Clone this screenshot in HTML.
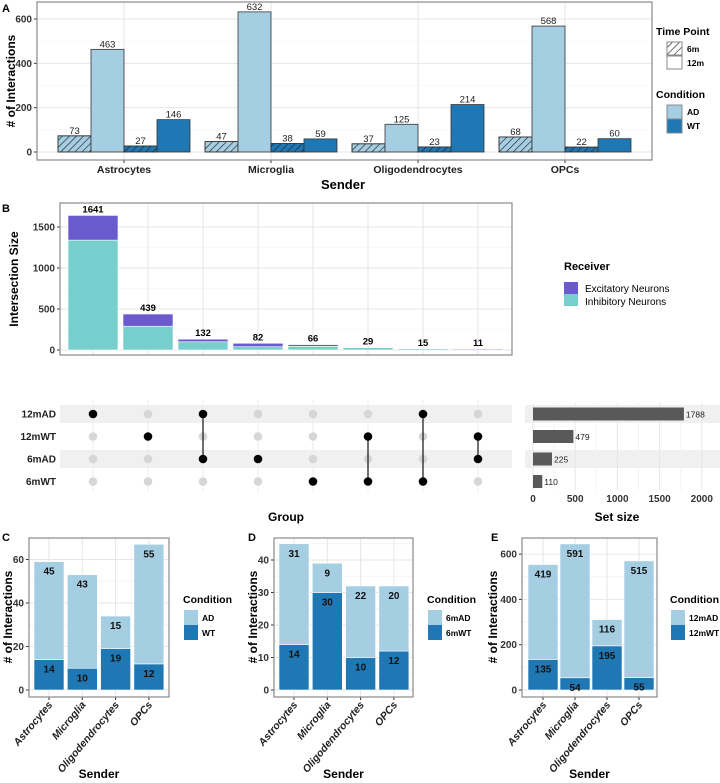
<!DOCTYPE html>
<html><head><meta charset="utf-8">
<style>
html,body{margin:0;padding:0;background:#fff;}
svg{display:block;font-family:"Liberation Sans",sans-serif;}
text{font-family:"Liberation Sans",sans-serif;}
</style></head>
<body>
<svg id="fig" width="720" height="783" viewBox="0 0 720 783">
<defs>
<pattern id="hatch" patternUnits="userSpaceOnUse" width="5" height="5" patternTransform="rotate(45)">
<line x1="0" y1="0" x2="0" y2="5" stroke="#222" stroke-width="1.3"/>
</pattern>
</defs>
</svg>
<script>
// ---------- data ----------
const senders = ['Astrocytes','Microglia','Oligodendrocytes','OPCs'];
const aAD6 = [73,47,37,68];
const aAD12 = [463,632,125,568];
const aWT6 = [27,38,23,22];
const aWT12 = [146,59,214,60];
const aTicks = [0,200,400,600];

const bTotals = [1641,439,132,82,66,29,15,11];
const bExc = [301,149,32,42,21,0,0,11];
const bTicks = [0,500,1000,1500];
const setNames = ['12mAD','12mWT','6mAD','6mWT'];
const setSizes = [1788,479,225,110];
const setTicks = [0,500,1000,1500,2000];
const memberships = [[0],[1],[0,2],[2],[3],[1,3],[0,3],[1,2]];

const cWT = [14,10,19,12];
const cAD = [45,43,15,55];
const cTicks = [0,20,40,60];
const dWT = [14,30,10,12];
const dAD = [31,9,22,20];
const dTicks = [0,10,20,30,40];
const eWT = [135,54,195,55];
const eAD = [419,591,116,515];
const eTicks = [0,200,400,600];

const LIGHT='#a6cee3', DARK='#1f78b4', PURPLE='#6a5acd', TEAL='#76cfcc';

const NS='http://www.w3.org/2000/svg';
const svg=document.getElementById('fig');
function mk(tag,attrs,parent){const e=document.createElementNS(NS,tag);for(const k in attrs)e.setAttribute(k,attrs[k]);(parent||svg).appendChild(e);return e;}
function txt(x,y,s,attrs,parent){const t=mk('text',Object.assign({x:x,y:y},attrs||{}),parent);t.textContent=s;return t;}

[['A',2,12],['B',2,212],['C',2,541],['D',248,541],['E',491,541]].forEach(p=>{
  const t=txt(p[1],p[2],p[0],{'font-size':11,'font-weight':'bold'});
  
  
});

// ================= Panel A =================
(function(){
  const g=mk('g',{});
  
  
  const x0=37,x1=652,yt=2,yb=160;
  const y=v=>152-v*0.2217;
  const xc=i=>124+147*i;
  mk('rect',{x:x0,y:yt,width:x1-x0,height:yb-yt,fill:'#fff'},g);
  [100,300,500].forEach(v=>mk('line',{x1:x0,x2:x1,y1:y(v),y2:y(v),stroke:'#f3f3f3','stroke-width':0.6},g));
  aTicks.forEach(v=>{
    mk('line',{x1:x0,x2:x1,y1:y(v),y2:y(v),stroke:'#e6e6e6','stroke-width':1},g);
    mk('line',{x1:x0-3,x2:x0,y1:y(v),y2:y(v),stroke:'#333'},g);
    const t=txt(x0-5,y(v)+3.5,String(v),{'font-size':10,'font-weight':'bold','text-anchor':'end',fill:'#333'},g);
    
    
  });
  senders.forEach((s,i)=>mk('line',{x1:xc(i),x2:xc(i),y1:yt,y2:yb,stroke:'#e6e6e6'},g));
  const series=[[aAD6,LIGHT,true,'ad-6m'],[aAD12,LIGHT,false,'ad-12m'],[aWT6,DARK,true,'wt-6m'],[aWT12,DARK,false,'wt-12m']];
  senders.forEach((s,i)=>{
    series.forEach((se,k)=>{
      const v=se[0][i];
      const bx=xc(i)+(k-2)*33;
      const r=mk('rect',{x:bx,y:y(v),width:33,height:y(0)-y(v),fill:se[1],stroke:'#333','stroke-width':0.8},g);
      
      
      if(se[2]){mk('rect',{x:bx,y:y(v),width:33,height:y(0)-y(v),fill:'url(#hatch)',stroke:'#333','stroke-width':0.8},g);}
      const t=txt(bx+16.5,y(v)-2,String(v),{'font-size':9.5,'text-anchor':'middle',fill:'#222'},g);
      
      
    });
    mk('line',{x1:xc(i),x2:xc(i),y1:yb,y2:yb+3,stroke:'#333'},g);
    const t=txt(xc(i),yb+13,s,{'font-size':10.5,'font-weight':'bold','text-anchor':'middle',fill:'#222'},g);
    
    
  });
  mk('rect',{x:x0,y:yt,width:x1-x0,height:yb-yt,fill:'none',stroke:'#8a8a8a','stroke-width':1.2},g);
  let t=txt(343,189,'Sender',{'font-size':13,'font-weight':'bold','text-anchor':'middle'},g);
  
  
  t=txt(0,0,'# of Interactions',{'font-size':12,'font-weight':'bold','text-anchor':'middle',transform:'translate(15,81) rotate(-90)'},g);
  
  
  t=txt(656,35,'Time Point',{'font-size':10.5,'font-weight':'bold'},g);
  
  
  let k=mk('rect',{x:667,y:42,width:15,height:13,fill:'url(#hatch)',stroke:'#888'},g);
  
  
  k=mk('rect',{x:667,y:56,width:15,height:13,fill:'#fff',stroke:'#888'},g);
  
  
  t=txt(687,52,'6m',{'font-size':8.5,'font-weight':'bold'},g);
  
  
  t=txt(687,66,'12m',{'font-size':8.5,'font-weight':'bold'},g);
  
  
  t=txt(656,98,'Condition',{'font-size':10.5,'font-weight':'bold'},g);
  
  
  k=mk('rect',{x:667,y:105,width:15,height:14,fill:LIGHT,stroke:'#888'},g);
  
  
  k=mk('rect',{x:667,y:119,width:15,height:14,fill:DARK,stroke:'#888'},g);
  
  
  t=txt(687,115,'AD',{'font-size':8.5,'font-weight':'bold'},g);
  
  
  t=txt(687,129,'WT',{'font-size':8.5,'font-weight':'bold'},g);
  
  
})();

// ================= Panel B =================
(function(){
  const g=mk('g',{});
  
  
  const x0=60,x1=512,yt=203,yb=355;
  const y=v=>350-v*0.082;
  const xc=i=>93+55*i;
  [250,750,1250].forEach(v=>mk('line',{x1:x0,x2:x1,y1:y(v),y2:y(v),stroke:'#f3f3f3','stroke-width':0.6},g));
  bTicks.forEach(v=>{
    mk('line',{x1:x0,x2:x1,y1:y(v),y2:y(v),stroke:'#e6e6e6'},g);
    mk('line',{x1:x0-3,x2:x0,y1:y(v),y2:y(v),stroke:'#333'},g);
    const t=txt(x0-5,y(v)+3.5,String(v),{'font-size':10,'font-weight':'bold','text-anchor':'end',fill:'#333'},g);
    
    
  });
  bTotals.forEach((tot,i)=>{
    mk('line',{x1:xc(i),x2:xc(i),y1:yt,y2:yb,stroke:'#e6e6e6'},g);
    const inh=tot-bExc[i];
    let r=mk('rect',{x:xc(i)-25,y:y(inh),width:50,height:y(0)-y(inh),fill:TEAL,stroke:'#fff','stroke-width':0.6},g);
    
    
    r=mk('rect',{x:xc(i)-25,y:y(tot),width:50,height:y(inh)-y(tot),fill:PURPLE,stroke:'#fff','stroke-width':0.6},g);
    
    
    const t=txt(xc(i),y(tot)-3,String(tot),{'font-size':9.5,'font-weight':'bold','text-anchor':'middle'},g);
    
    
  });
  mk('rect',{x:x0,y:yt,width:x1-x0,height:yb-yt,fill:'none',stroke:'#8a8a8a','stroke-width':1.2},g);
  let t=txt(0,0,'Intersection Size',{'font-size':12,'font-weight':'bold','text-anchor':'middle',transform:'translate(18,279) rotate(-90)'},g);
  
  
  t=txt(564,270,'Receiver',{'font-size':11,'font-weight':'bold'},g);
  
  
  let k=mk('rect',{x:564,y:282,width:14,height:12,fill:PURPLE},g);
  
  
  k=mk('rect',{x:564,y:294,width:14,height:12,fill:TEAL},g);
  
  
  t=txt(585,292,'Excitatory Neurons',{'font-size':10},g);
  
  
  t=txt(585,305,'Inhibitory Neurons',{'font-size':10},g);
  
  

  const ry=r=>414+22.5*r;
  [0,2].forEach(r=>{
    mk('rect',{x:x0,y:ry(r)-9,width:x1-x0,height:18,fill:'#f0f0f0'},g);
    mk('rect',{x:525,y:ry(r)-9,width:195,height:18,fill:'#f0f0f0'},g);
  });
  bTotals.forEach((tot,i)=>mk('line',{x1:xc(i),x2:xc(i),y1:400,y2:492,stroke:'#ececec'},g));
  setNames.forEach((n,r)=>{
    const t=txt(56,ry(r)+3.5,n,{'font-size':10,'font-weight':'bold','text-anchor':'end',fill:'#222'},g);
    
    
  });
  memberships.forEach((m,i)=>{
    setNames.forEach((n,r)=>{
      if(m.indexOf(r)<0){mk('circle',{cx:xc(i),cy:ry(r),r:4.3,fill:'#d6d6d6'},g);}
    });
    if(m.length>1){
      const l=mk('line',{x1:xc(i),x2:xc(i),y1:ry(Math.min(...m)),y2:ry(Math.max(...m)),stroke:'#111','stroke-width':1.2},g);
      
      
    }
    m.forEach(r=>{
      const c=mk('circle',{cx:xc(i),cy:ry(r),r:4.3,fill:'#000'},g);
      
      
    });
  });
  t=txt(286,521,'Group',{'font-size':12,'font-weight':'bold','text-anchor':'middle'},g);
  
  
  const xs=v=>533+v*0.0844;
  [250,750,1250,1750].forEach(v=>mk('line',{x1:xs(v),x2:xs(v),y1:403,y2:490,stroke:'#f3f3f3'},g));
  setTicks.forEach(v=>{
    mk('line',{x1:xs(v),x2:xs(v),y1:403,y2:490,stroke:'#e6e6e6'},g);
    const t=txt(xs(v),502,String(v),{'font-size':10,'font-weight':'bold','text-anchor':'middle',fill:'#333'},g);
    
    
  });
  setSizes.forEach((v,r)=>{
    const b=mk('rect',{x:xs(0),y:ry(r)-6.5,width:xs(v)-xs(0),height:13,fill:'#595959'},g);
    
    
    const t=txt(xs(v)+2,ry(r)+3.5,String(v),{'font-size':8.5,fill:'#222'},g);
    
    
  });
  t=txt(617,521,'Set size',{'font-size':12,'font-weight':'bold','text-anchor':'middle'},g);
  
  
})();

// ================= Panels C/D/E =================
function stacked(cfg){
  const g=mk('g',{});
  
  
  const yt=538,yb=697,zero=690;
  const y=v=>zero-v*cfg.k;
  const xc=i=>cfg.c0+cfg.dc*i;
  const step=cfg.ticks[1]-cfg.ticks[0];
  cfg.ticks.forEach(v=>{
    if(y(v+step/2)>yt) mk('line',{x1:cfg.x0,x2:cfg.x1,y1:y(v+step/2),y2:y(v+step/2),stroke:'#f3f3f3'},g);
    mk('line',{x1:cfg.x0,x2:cfg.x1,y1:y(v),y2:y(v),stroke:'#e6e6e6'},g);
    mk('line',{x1:cfg.x0-3,x2:cfg.x0,y1:y(v),y2:y(v),stroke:'#333'},g);
    const t=txt(cfg.x0-5,y(v)+3.5,String(v),{'font-size':10,'font-weight':'bold','text-anchor':'end',fill:'#333'},g);
    
    
  });
  senders.forEach((s,i)=>{
    mk('line',{x1:xc(i),x2:xc(i),y1:yt,y2:yb,stroke:'#e6e6e6'},g);
    const w=cfg.wt[i],a=cfg.ad[i];
    let r=mk('rect',{x:xc(i)-15,y:y(w),width:30,height:y(0)-y(w),fill:DARK,stroke:'#fff','stroke-width':0.6},g);
    
    
    r=mk('rect',{x:xc(i)-15,y:y(w+a),width:30,height:y(w)-y(w+a),fill:LIGHT,stroke:'#fff','stroke-width':0.6},g);
    
    
    let t=txt(xc(i),y(w+a)+13,String(a),{'font-size':10,'font-weight':'bold','text-anchor':'middle',fill:'#111'},g);
    
    
    t=txt(xc(i),y(w)+13,String(w),{'font-size':10,'font-weight':'bold','text-anchor':'middle',fill:'#111'},g);
    
    
    mk('line',{x1:xc(i),x2:xc(i),y1:yb,y2:yb+3,stroke:'#333'},g);
    t=txt(0,0,s,{'font-size':10.5,'font-weight':'bold','font-style':'italic','text-anchor':'end',fill:'#222',transform:'translate('+(xc(i)+4)+','+(yb+8)+') rotate(-50)'},g);
    
    
  });
  mk('rect',{x:cfg.x0,y:yt,width:cfg.x1-cfg.x0,height:yb-yt,fill:'none',stroke:'#8a8a8a','stroke-width':1.2},g);
  let t=txt((cfg.x0+cfg.x1)/2,778,'Sender',{'font-size':12,'font-weight':'bold','text-anchor':'middle'},g);
  
  
  t=txt(0,0,'# of Interactions',{'font-size':12,'font-weight':'bold','text-anchor':'middle',transform:'translate('+cfg.yx+',617) rotate(-90)'},g);
  
  
  t=txt(cfg.lx,603,'Condition',{'font-size':10.5,'font-weight':'bold'},g);
  
  
  let k=mk('rect',{x:cfg.lx+1,y:610,width:14,height:15,fill:LIGHT},g);
  
  
  k=mk('rect',{x:cfg.lx+1,y:625,width:14,height:15,fill:DARK},g);
  
  
  t=txt(cfg.lx+19,621,cfg.l1,{'font-size':8.5,'font-weight':'bold'},g);
  
  
  t=txt(cfg.lx+19,636,cfg.l2,{'font-size':8.5,'font-weight':'bold'},g);
  
  
}
stacked({id:'c',x0:29,x1:169,k:2.175,ticks:cTicks,c0:49,dc:33.3,wt:cWT,ad:cAD,yx:12,lx:183,l1:'AD',l2:'WT'});
stacked({id:'d',x0:274,x1:413,k:3.25,ticks:dTicks,c0:294,dc:33.3,wt:dWT,ad:dAD,yx:257,lx:427,l1:'6mAD',l2:'6mWT'});
stacked({id:'e',x0:522,x1:657,k:0.2265,ticks:eTicks,c0:543,dc:32,wt:eWT,ad:eAD,yx:497,lx:670,l1:'12mAD',l2:'12mWT'});
</script>
</body></html>
